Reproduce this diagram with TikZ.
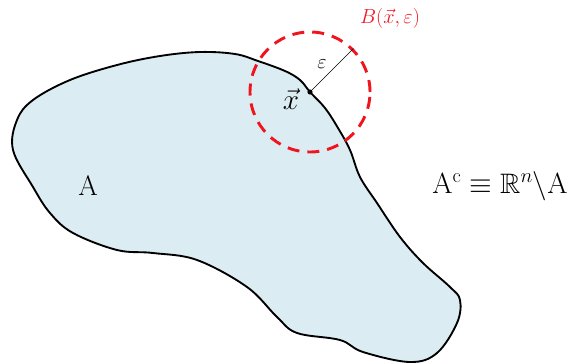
\documentclass[tikz,border=0pt]{standalone}
\usepackage{amsmath,amssymb,xcolor}
\definecolor{setfill}{RGB}{219,237,243}
\definecolor{ballred}{RGB}{240,20,30}
\usepackage{tikz}
\usetikzlibrary{arrows.meta,positioning,calc}

\begin{document}
\begin{tikzpicture}[x=0.03cm,y=-0.03cm,
  big/.style={font=\fontsize{24}{28}\selectfont},
  mid/.style={font=\fontsize{19}{22}\selectfont}]
  \useasboundingbox (0,0) rectangle (567,363);
  \draw[line width=1.6pt,fill=setfill] plot[smooth cycle,tension=0.6] coordinates {
    (117,65) (160,56) (200,52) (235,54) (258,61) (285,71) (300,80) (310,92)
    (325,108) (338,128) (350,150) (360,177) (377,203) (400,237) (423,263)
    (450,287) (460,300) (457,323) (437,353) (410,362) (363,352) (340,340)
    (297,333) (277,317) (247,287) (197,260) (153,253) (117,250) (73,233)
    (50,213) (33,187) (13,150) (17,120) (33,100) (70,80)};
  \coordinate (xpt) at (310,92);
  \node[circle,minimum size=3.6cm,inner sep=0pt,draw=ballred,line width=2.5pt,
    dash pattern=on 0.36cm off 0.24cm] (ball) at (xpt) {};
  \draw[line width=0.5pt] (xpt) -- (ball.45);
  \fill (xpt) circle (2.2pt);
  \node[mid] (eps) at (322,64) {$\varepsilon$};
  \node[big] (xlbl) at (291,99) {$\vec{x}$};
  \node[mid,text=ballred] (blbl) at (390,18) {$B(\vec{x},\varepsilon)$};
  \node[big] (setA) at (88,186) {A};
  \node[big] (compl) at (500,186) {$\mathrm{A}^{\mathrm{c}}\equiv\mathbb{R}^{n}\backslash\mathrm{A}$};
\end{tikzpicture}
\end{document}
